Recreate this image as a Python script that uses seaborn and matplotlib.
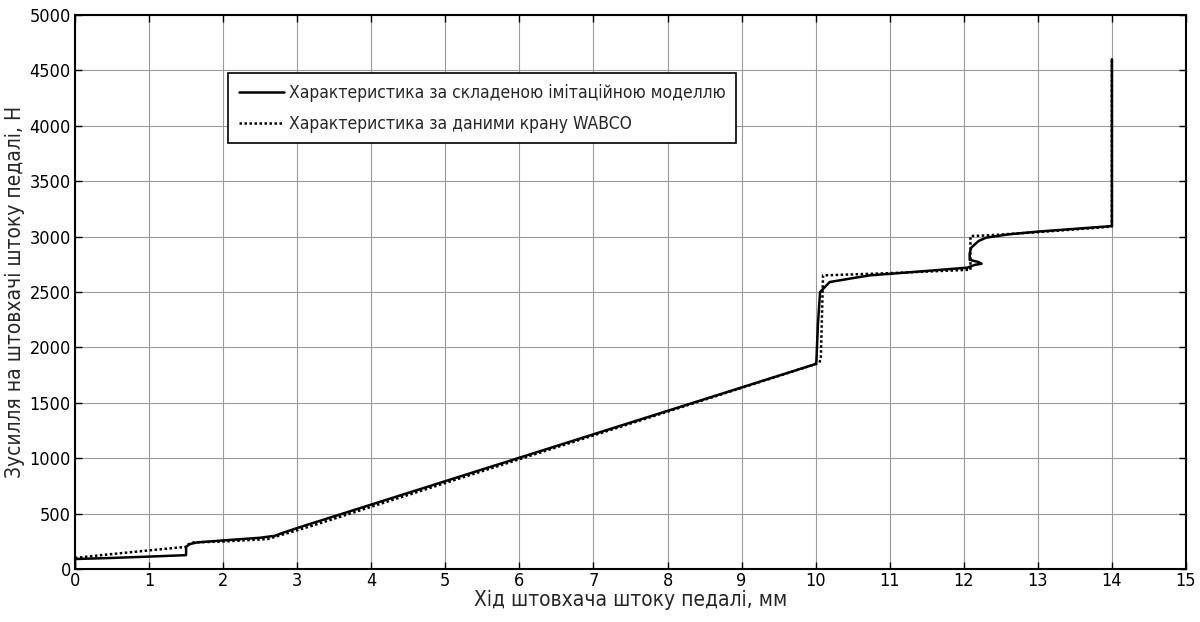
"""Pedal rod force vs stroke: model vs WABCO valve data."""

import matplotlib

matplotlib.use("Agg")

import matplotlib.pyplot as plt
from matplotlib import font_manager
import pandas as pd
import seaborn as sns

# solid line: simulation model (x in mm, force in N)
model_x = [0.0, 0.0, 0.5, 1.0, 1.5, 1.5, 1.55, 1.65, 2.0, 2.5, 2.7, 2.8, 3.0,
           10.0, 10.01, 10.03, 10.06, 10.19, 10.5, 10.73, 11.5, 12.05, 12.15,
           12.24, 12.2, 12.08, 12.08, 12.1, 12.2, 12.3, 12.6, 13.0, 13.5, 14.0, 14.0]
model_y = [0, 90, 100, 112, 125, 200, 225, 240, 258, 282, 300, 325, 370,
           1850, 1870, 2200, 2500, 2590, 2625, 2650, 2690, 2720, 2745,
           2755, 2770, 2790, 2850, 2900, 2960, 2990, 3020, 3045, 3070, 3095, 4600]

# dotted line: WABCO valve data
wabco_x = [0.0, 0.5, 1.0, 1.5, 1.5, 1.6, 2.0, 2.6, 2.75, 3.2, 10.05, 10.07,
           10.1, 11.0, 12.05, 12.09, 12.09, 12.3, 13.0, 14.0, 14.0]
wabco_y = [100, 135, 168, 200, 215, 240, 248, 270, 300, 390, 1860, 1900,
           2650, 2670, 2700, 2700, 3005, 3010, 3040, 3090, 4600]

x_ticks = list(range(0, 16))
y_ticks = list(range(0, 5001, 500))

label_model = "Характеристика за складеною імітаційною моделлю"
label_wabco = "Характеристика за даними крану WABCO"
x_label = "Хід штовхача штоку педалі, мм"
y_label = "Зусилля на штовхачі штоку педалі, Н"


def _narrow_font() -> tuple[str, str]:
    fonts = font_manager.fontManager.ttflist
    names = {f.name for f in fonts}
    if "Liberation Sans Narrow" in names:
        return "Liberation Sans Narrow", "normal"
    if any(f.name == "DejaVu Sans" and f.stretch == "condensed" for f in fonts):
        return "DejaVu Sans", "condensed"
    for name in ["Roboto Condensed", "Open Sans Condensed", "Noto Sans Condensed"]:
        if name in names:
            return name, "normal"
    return "Roboto", "normal"


family, stretch = _narrow_font()

sns.set_theme(style="ticks")
plt.rcParams["font.family"] = [family, "DejaVu Sans"]
plt.rcParams["font.stretch"] = stretch
plt.rcParams["font.weight"] = "light" if family == "Roboto" else "normal"

model = pd.DataFrame({"x": model_x, "y": model_y})
wabco = pd.DataFrame({"x": wabco_x, "y": wabco_y})

fig = plt.figure(figsize=(12, 6.22), dpi=100)
ax = fig.add_axes([0.0625, 0.0852, 0.9258, 0.8907])

sns.lineplot(data=model, x="x", y="y", sort=False, estimator=None, ax=ax,
             color="black", linewidth=1.8, label=label_model)
sns.lineplot(data=wabco, x="x", y="y", sort=False, estimator=None, ax=ax,
             color="black", linewidth=1.8, linestyle=(0, (1, 1)), label=label_wabco)

ax.set_xlim(0, 15)
ax.set_ylim(0, 5000)
ax.set_xticks(x_ticks)
ax.set_yticks(y_ticks)
ax.grid(True, color="#9a9a9a", linewidth=0.8)
ax.set_axisbelow(True)
for side in ax.spines.values():
    side.set_visible(True)
    side.set_color("black")
    side.set_linewidth(1.5)
ax.tick_params(direction="in", top=True, right=True, length=5, width=1,
               labelsize=13, colors="black", pad=2)
ax.tick_params(axis="y", pad=3)
ax.set_xlabel(x_label, fontsize=15, labelpad=0)
ax.set_ylabel(y_label, fontsize=15, labelpad=3)

leg = ax.legend(loc="upper left", bbox_to_anchor=(0.138, 0.895), fontsize=12.5,
                frameon=True, fancybox=False, framealpha=1, edgecolor="black",
                handlelength=2.6, handletextpad=0.3, borderpad=0.6,
                labelspacing=0.75, borderaxespad=0)
leg.get_frame().set_linewidth(1.2)

fig.savefig("out.png", dpi=100)
